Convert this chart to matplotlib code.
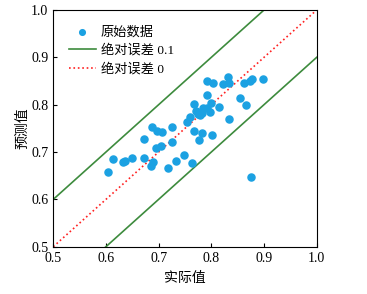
import numpy as np
import matplotlib
matplotlib.use('Agg')
import matplotlib.pyplot as plt

plt.rcParams['font.family'] = ['Liberation Serif', 'Noto Sans CJK SC']
plt.rcParams['axes.unicode_minus'] = False

# actual vs predicted values
actual = [0.603, 0.614, 0.632, 0.637, 0.650, 0.673, 0.685, 0.689, 0.672, 0.687,
          0.696, 0.706, 0.695, 0.705, 0.725, 0.726, 0.717, 0.732, 0.749, 0.764,
          0.753, 0.760, 0.768, 0.770, 0.775, 0.779, 0.782, 0.785, 0.791, 0.798,
          0.800, 0.815, 0.768, 0.783, 0.802, 0.776, 0.833, 0.865, 0.855, 0.792,
          0.792, 0.804, 0.823, 0.832, 0.833, 0.862, 0.874, 0.877, 0.898, 0.876]
predicted = [0.658, 0.685, 0.679, 0.680, 0.688, 0.688, 0.670, 0.679, 0.728, 0.753,
             0.744, 0.742, 0.708, 0.713, 0.753, 0.721, 0.666, 0.682, 0.693, 0.677,
             0.764, 0.775, 0.801, 0.786, 0.780, 0.778, 0.782, 0.792, 0.792, 0.785,
             0.803, 0.795, 0.745, 0.740, 0.736, 0.725, 0.769, 0.800, 0.815, 0.820,
             0.851, 0.846, 0.843, 0.859, 0.845, 0.845, 0.849, 0.854, 0.854, 0.647]

line_x = [0.5, 1.0]

fig = plt.figure(figsize=(3.67, 2.94), dpi=100)
ax = fig.add_axes([0.1452, 0.1609, 0.7177, 0.8051])

ax.scatter(actual, predicted, s=26, color='#1ba1e2', label='原始数据', zorder=3)
ax.plot(line_x, [x + 0.1 for x in line_x], color='#3d8b3d', lw=1.2, label='绝对误差 0.1')
ax.plot(line_x, [x - 0.1 for x in line_x], color='#3d8b3d', lw=1.2)
ax.plot(line_x, line_x, color='#ff2020', lw=1.2, ls=':', label='绝对误差 0')

ax.set_xlim(0.5, 1.0)
ax.set_ylim(0.5, 1.0)
ax.set_xticks(np.arange(0.5, 1.01, 0.1))
ax.set_yticks(np.arange(0.5, 1.01, 0.1))
ax.tick_params(direction='in', length=3, labelsize=10)
ax.set_xlabel('实际值', fontsize=10, labelpad=5)
ax.set_ylabel('预测值', fontsize=10, labelpad=1)

ax.legend(loc='upper left', frameon=False, fontsize=9.5, handlelength=2.0,
          handletextpad=0.4, markerscale=0.8,
          borderaxespad=0.8, labelspacing=0.45)

fig.savefig('out.png', dpi=100)
